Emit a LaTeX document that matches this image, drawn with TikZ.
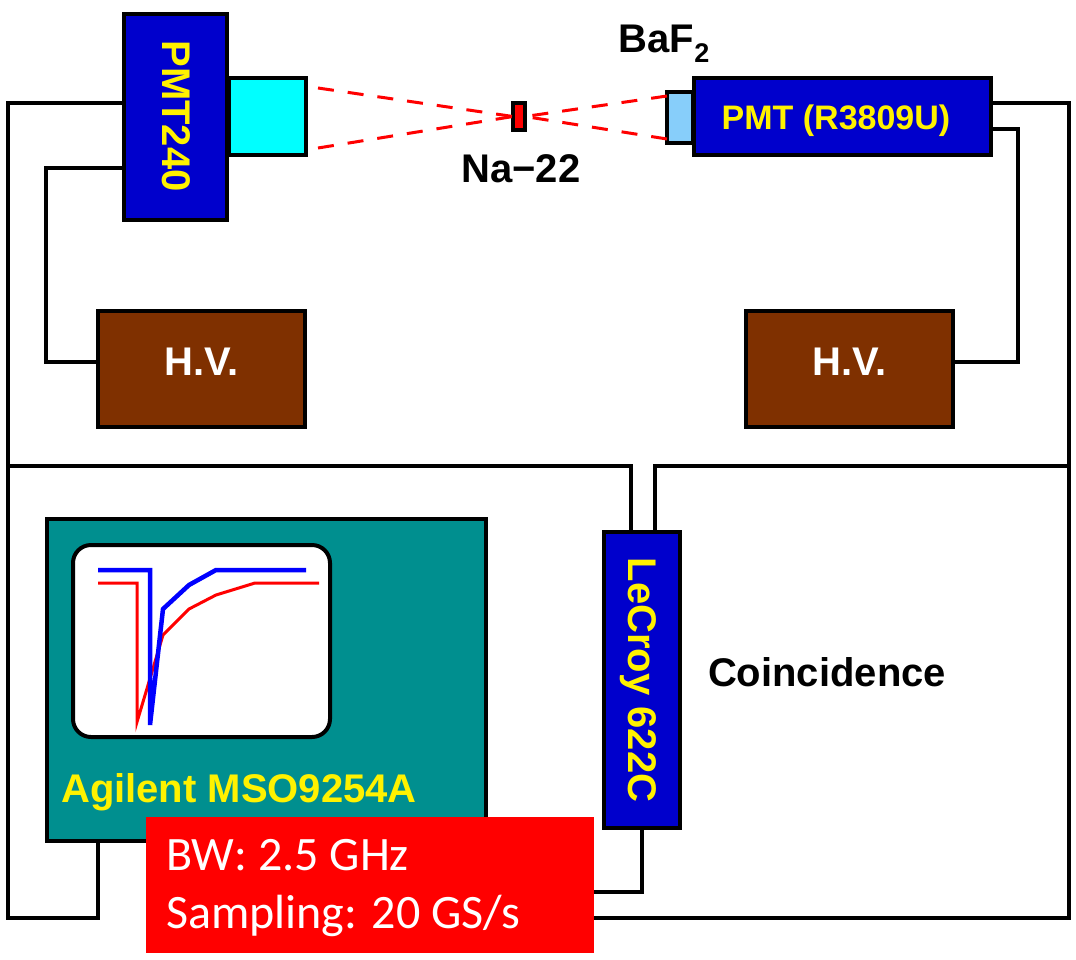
\documentclass[tikz,border=0pt]{standalone}
\usepackage{fontspec}
\setmainfont{Liberation Sans}
\newfontfamily\calfont{Carlito}
\usepackage{xcolor}
\definecolor{mblue}{HTML}{0000CC}
\definecolor{mbrown}{HTML}{7F3000}
\definecolor{mteal}{HTML}{008F8F}
\definecolor{mcyan}{HTML}{00FFFF}
\definecolor{msky}{HTML}{87CEFA}
\usetikzlibrary{positioning}
\tikzstyle{l1}=[line width=4]
\tikzstyle{l2}=[line width=3.5]
\tikzstyle{box}=[rectangle, draw=black, l1, inner sep=0pt, outer sep=0pt]
\tikzstyle{pmt}=[box, fill=mblue]
\tikzstyle{hv}=[box, fill=mbrown, minimum width=207, minimum height=116]
\tikzstyle{txt}=[inner sep=0pt, anchor=base, font=\bfseries\fontsize{40}{40}\selectfont]
\tikzstyle{ylw}=[txt, text=yellow]
\tikzstyle{ray}=[line width=3, red, dash pattern=on 16 off 14]
\tikzstyle{trace}=[line join=miter, line cap=butt]
\tikzstyle{spectxt}=[inner sep=0pt, anchor=base west, text=white, font=\calfont\fontsize{48}{48}\selectfont]
\begin{document}
\begin{tikzpicture}[x=1pt, y=-1pt]
    \useasboundingbox (0,0) rectangle (1076,959);

    % detector side
    \node (pmtl) [pmt, minimum width=103, minimum height=206] at (175.5,117) {};
    \node (crysl) [box, fill=mcyan, minimum width=77, minimum height=77] at (267,116.5) {};
    \node (pmtr) [pmt, minimum width=297, minimum height=77] at (842.5,116.5) {};
    \node (crysr) [box, fill=msky, minimum width=26, minimum height=51] at (680,117) {};
    \node (src) [box, fill=red, minimum width=12, minimum height=27] at (519,116.5) {};
    \node (hvl) [hv] at (201.5,369) {};
    \node (hvr) [hv] at (849,369) {};

    % electronics
    \node (scope) [box, fill=mteal, minimum width=439, minimum height=322] at (266.5,680) {};
    \node (screen) [box, fill=white, rounded corners=18, minimum width=257, minimum height=192] at (201.5,641) {};
    \node (coin) [pmt, minimum width=76, minimum height=296] at (642,680) {};

    \node (pmtltxt) [ylw, rotate=-90] at (162,116) {PMT240};
    \node (pmtrtxt) [ylw, font=\bfseries\fontsize{34}{34}\selectfont] at (836,129) {PMT (R3809U)};
    \node (hvltxt) [txt, text=white] at (202,375) {H.V.};
    \node (hvrtxt) [txt, text=white] at (850,375) {H.V.};
    \node (cointxt) [ylw, rotate=-90] at (628,680) {LeCroy 622C};
    \node (baf) [txt] at (664,52) {BaF\raisebox{-10pt}{\fontsize{27}{27}\selectfont 2}};
    \node (na) [txt] at (521,182) {Na−22};
    \node (coinlab) [txt] at (827,686) {Coincidence};
    \node (scopetxt) [ylw] at (239,802) {Agilent MSO9254A};

    \coordinate (a1) at (8,103);
    \coordinate (a2) at (8,918);
    \coordinate (a3) at (98,918);
    \coordinate (b1) at (46,168);
    \coordinate (b2) at (46,362);
    \coordinate (c1) at (1018,129);
    \coordinate (c2) at (1018,362);
    \coordinate (d1) at (1069,103);
    \coordinate (d2) at (1069,466);
    \coordinate (d3) at (655,466);
    \coordinate (d4) at (1069,918);
    \coordinate (d5) at (594,918);
    \coordinate (e1) at (8,466);
    \coordinate (e2) at (631,466);
    \coordinate (f1) at (642,892);
    \coordinate (f2) at (594,892);

    \draw[l2] (pmtl.west |- a1) -- (a1) -- (a2) -- (a3) -- (a3 |- scope.south);
    \draw[l2] (pmtl.west |- b1) -- (b1) -- (b2) -- (hvl.west |- b2);
    \draw[l2] (pmtr.east |- c1) -- (c1) -- (c2) -- (hvr.east |- c2);
    \draw[l2] (pmtr.east |- d1) -- (d1) -- (d2) -- (d3) -- (d3 |- coin.north);
    \draw[l2] (d2) -- (d4) -- (d5);
    \draw[l2] (e1) -- (e2) -- (e2 |- coin.north);
    \draw[l2] (coin.south) -- (f1) -- (f2);

    % gamma rays
    \coordinate (r1) at (318,88);
    \coordinate (r2) at (318,148);
    \draw[ray] (r1) -- (src.west);
    \draw[ray] (r2) -- (src.west);
    \draw[ray] (crysr.west |- 0,96) -- (src.east);
    \draw[ray] (crysr.west |- 0,139) -- (src.east);

    % pulses
    \draw[red, line width=3, trace] (98,583) -- (137,583) -- (137,722) -- (163,635) -- (189,609) -- (216,595) -- (255,583) -- (319,583);
    \draw[blue, line width=4.5, trace] (98,570) -- (150,570) -- (150,725) -- (163,609) -- (189,585) -- (216,570) -- (306,570);

    \node (spec) [fill=red, minimum width=448, minimum height=136, inner sep=0pt] at (370,885) {};
    \node (bw) [spectxt] at (166,870) {BW: 2.5 GHz};
    \node (samp) [spectxt] at (166,928) {Sampling: 20 GS/s};
\end{tikzpicture}
\end{document}
